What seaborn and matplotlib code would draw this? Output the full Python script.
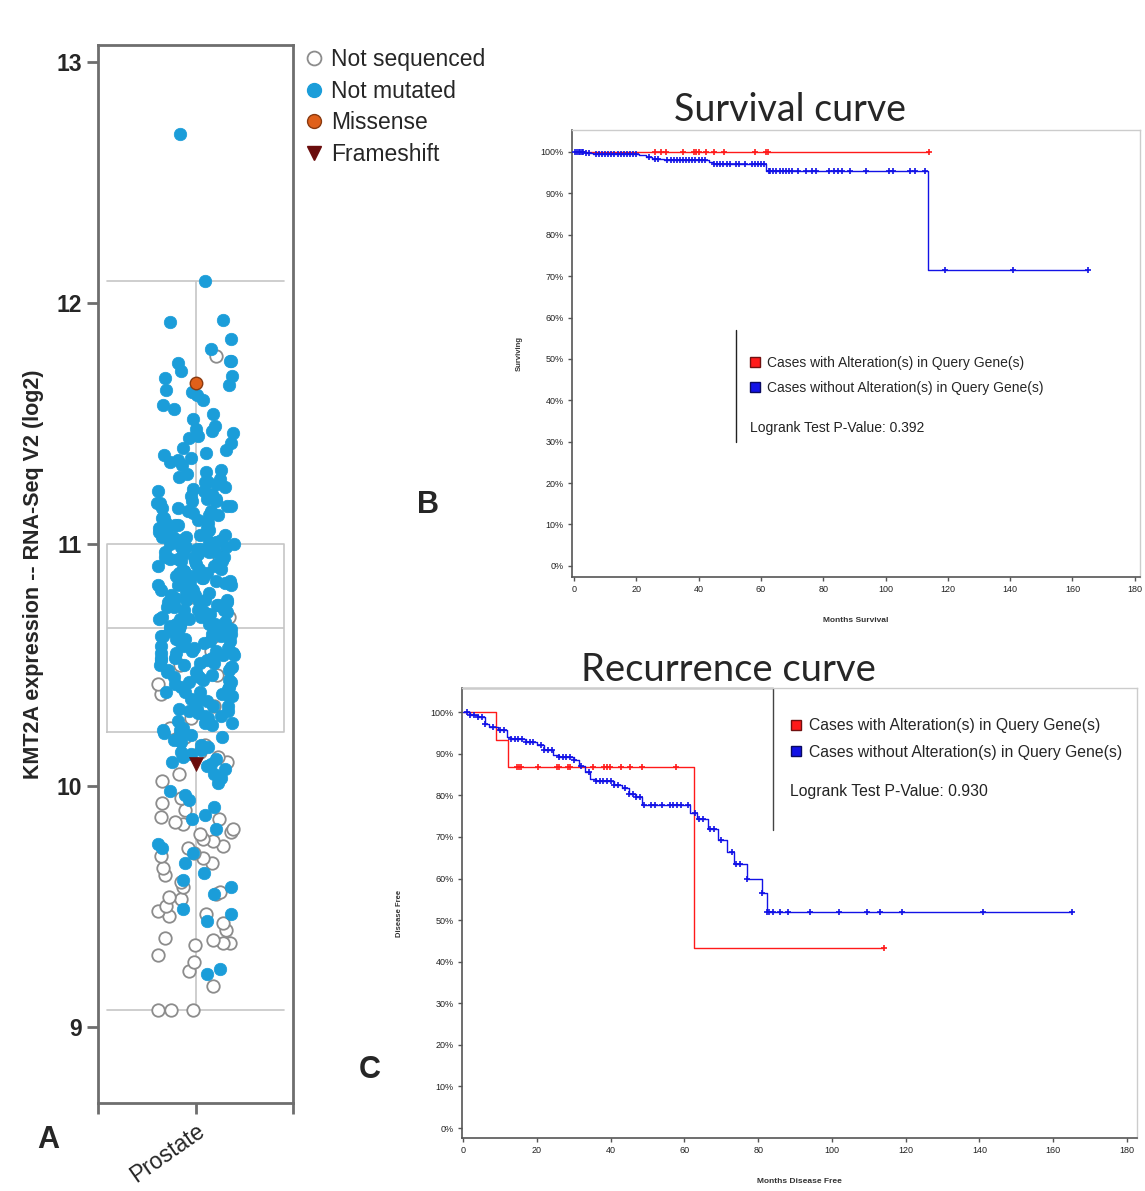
import numpy as np
import matplotlib
matplotlib.use('Agg')
import matplotlib.pyplot as plt
from matplotlib.lines import Line2D
import seaborn as sns

# ---------------- panel A: KMT2A expression in prostate samples ----------------
cancer_type = 'Prostate'
expr_ticks = [9, 10, 11, 12, 13]

not_sequenced = [
    9.07, 9.07, 9.07, 9.17, 9.23, 9.27, 9.30, 9.34, 9.35, 9.35,
    9.36, 9.37, 9.40, 9.43, 9.46, 9.47, 9.48, 9.50, 9.53, 9.54,
    9.55, 9.56, 9.58, 9.60, 9.63, 9.66, 9.68, 9.70, 9.71, 9.72,
    9.74, 9.75, 9.77, 9.78, 9.80, 9.81, 9.82, 9.84, 9.85, 9.86,
    9.87, 9.90, 9.93, 9.95, 10.02, 10.05, 10.08, 10.10, 10.12, 10.14,
    10.17, 10.20, 10.24, 10.28, 10.33, 10.38, 10.42, 10.46, 10.50, 10.56,
    10.62, 10.70, 10.78, 10.85, 10.95, 11.78,
]

not_mutated = [
    9.22, 9.24, 9.44, 9.47, 9.49, 9.55, 9.58, 9.61, 9.64, 9.68,
    9.72, 9.74, 9.76, 9.82, 9.86, 9.88, 9.91, 9.94, 9.96, 9.98,
    10.01, 10.03, 10.05, 10.07, 10.08, 10.09,
    10.10, 10.11, 10.12, 10.13, 10.14, 10.15, 10.16, 10.17, 10.18, 10.19,
    10.20, 10.21, 10.21, 10.22, 10.23, 10.23, 10.24, 10.25, 10.26, 10.26,
    10.27, 10.28, 10.29, 10.29,
    10.30, 10.31, 10.31, 10.32, 10.32, 10.33, 10.33, 10.34, 10.35, 10.35,
    10.36, 10.36, 10.37, 10.37, 10.38, 10.39, 10.39, 10.39,
    10.40, 10.41, 10.41, 10.42, 10.43, 10.43, 10.44, 10.44, 10.45, 10.45,
    10.46, 10.46, 10.47, 10.47, 10.48, 10.48, 10.49, 10.49,
    10.50, 10.50, 10.51, 10.51, 10.52, 10.52, 10.53, 10.53, 10.53, 10.54,
    10.54, 10.55, 10.55, 10.55, 10.56, 10.56, 10.57, 10.57, 10.58, 10.58,
    10.59, 10.59,
    10.60, 10.60, 10.61, 10.61, 10.62, 10.62, 10.62, 10.63, 10.63, 10.63,
    10.64, 10.64, 10.65, 10.65, 10.65, 10.66, 10.66, 10.66, 10.67, 10.67,
    10.67, 10.68, 10.68, 10.69, 10.69, 10.69,
    10.70, 10.70, 10.71, 10.71, 10.72, 10.72, 10.72, 10.73, 10.73, 10.73,
    10.74, 10.74, 10.75, 10.75, 10.75, 10.76, 10.76, 10.76, 10.77, 10.77,
    10.77, 10.78, 10.78, 10.79, 10.79, 10.79,
    10.80, 10.80, 10.81, 10.81, 10.82, 10.82, 10.82, 10.83, 10.83, 10.83,
    10.84, 10.84, 10.85, 10.85, 10.85, 10.86, 10.86, 10.86, 10.87, 10.87,
    10.87, 10.88, 10.88, 10.89, 10.89, 10.89,
    10.90, 10.90, 10.91, 10.91, 10.92, 10.92, 10.93, 10.93, 10.93, 10.94,
    10.94, 10.95, 10.95, 10.95, 10.96, 10.96, 10.97, 10.97, 10.97, 10.98,
    10.98, 10.99, 10.99, 10.99,
    11.00, 11.00, 11.01, 11.01, 11.01, 11.02, 11.02, 11.03, 11.03, 11.03,
    11.04, 11.04, 11.05, 11.05, 11.05, 11.06, 11.06, 11.07, 11.07, 11.07,
    11.08, 11.08, 11.09, 11.09,
    11.10, 11.11, 11.11, 11.12, 11.12, 11.13, 11.14, 11.14, 11.15, 11.15,
    11.16, 11.16, 11.17, 11.17, 11.18, 11.18, 11.19, 11.19,
    11.20, 11.21, 11.22, 11.22, 11.23, 11.24, 11.25, 11.26, 11.26, 11.27,
    11.28, 11.29,
    11.30, 11.31, 11.33, 11.34, 11.35, 11.36, 11.37, 11.38, 11.39,
    11.40, 11.42, 11.44, 11.45, 11.46, 11.47, 11.48, 11.49,
    11.52, 11.54, 11.56, 11.58, 11.60,
    11.62, 11.63, 11.64, 11.66, 11.69,
    11.70, 11.72, 11.75, 11.76, 11.76,
    11.81, 11.85, 11.92, 11.93, 12.09, 12.70,
]

missense = [11.67]
frameshift = [10.09]

legend_labels = ['Not sequenced', 'Not mutated', 'Missense', 'Frameshift']

# ---------------- panel B: survival (Kaplan-Meier) ----------------
surv_alt_time = [0]
surv_alt_pct = [100.0]
surv_alt_censor = [26, 28, 29.5, 35, 38.5, 39.3, 40.2, 42.5, 45, 48.3, 58, 61.7, 62.3, 114]

surv_noalt_time = [0, 4, 6, 21, 23, 25, 29, 43.5, 44.5, 61.5, 113.5]
surv_noalt_pct = [100.0, 99.7, 99.5, 99.2, 98.7, 98.3, 98.0, 97.6, 97.2, 95.3, 71.4]
surv_noalt_censor = [
    0.5, 1, 1.5, 2, 2.5, 3, 4, 5, 7, 8, 9, 10, 11, 12, 13, 14, 15, 16, 17, 18, 19, 20,
    24, 26, 27, 30, 31, 32, 33, 34, 35, 36, 37, 38, 39, 40, 41, 42, 45, 46, 47, 48, 49,
    50, 52, 53, 55, 57, 58, 59, 60, 61,
    62.5, 63, 64, 65, 66, 67, 68, 69, 70, 72, 74.5, 76.4, 77.6, 82, 83.4, 84.7, 86,
    88.5, 93.6, 101, 102.5, 108, 109.6, 112.8, 119, 141, 165,
]
surv_pvalue = '0.392'

# ---------------- panel C: disease free (Kaplan-Meier) ----------------
dfs_alt_time = [0, 9, 12.3, 62.5]
dfs_alt_pct = [100.0, 93.3, 86.7, 43.3]
dfs_alt_censor = [14.6, 15.2, 15.6, 20.2, 25.5, 25.9, 28.4, 29, 35.2, 38.1, 39, 39.9,
                  42.8, 45.2, 48.4, 57.8, 114.2]

dfs_noalt_time = [0, 2, 4, 6, 7, 9.5, 12, 13, 17, 20, 22, 24.5, 26, 30, 31.5, 33, 34.5,
                  36, 41, 43, 45, 47, 48.4, 61.5, 63.3, 66.5, 69, 71.5, 73.5, 77, 81, 82.3]
dfs_noalt_pct = [100.0, 99.2, 98.8, 97.2, 96.4, 95.6, 94.0, 93.6, 92.8, 92.0, 90.8, 89.6,
                 89.2, 88.4, 87.0, 85.6, 84.0, 83.4, 82.4, 81.8, 80.4, 79.6, 77.6, 75.8,
                 74.2, 72.0, 69.2, 66.4, 63.6, 59.8, 56.4, 52.0]
dfs_noalt_censor = [
    1, 2, 3, 4, 5, 6, 8, 10, 11, 13, 14, 15, 16, 17, 18, 19, 21, 22, 23, 24, 26, 27,
    28, 29, 30, 32, 34, 36, 37, 38, 39, 40, 41, 42, 44, 45, 46, 47, 48, 49, 51, 52,
    54, 56, 57, 58, 59, 61, 63, 64, 65, 67, 68, 70, 73, 74, 75, 77, 81, 82.5, 83,
    84, 86, 88, 94, 102, 109.5, 113, 119, 141, 165,
]
dfs_pvalue = '0.930'

months_ticks = [0, 20, 40, 60, 80, 100, 120, 140, 160, 180]
pct_ticks = [0, 10, 20, 30, 40, 50, 60, 70, 80, 90, 100]
group_labels = ['Cases with Alteration(s) in Query Gene(s)',
                'Cases without Alteration(s) in Query Gene(s)']

RED = '#ff1a1a'
BLUE = '#1212e6'
NARROW = ['Liberation Sans', 'DejaVu Sans']

sns.set_style('white')
plt.rcParams['font.family'] = ['Liberation Sans', 'DejaVu Sans']

fig = plt.figure(figsize=(11.45, 11.91), dpi=100)
axA = fig.add_axes([0.0856, 0.0739, 0.1703, 0.8883])
axB = fig.add_axes([0.4996, 0.5155, 0.4961, 0.3753])
axC = fig.add_axes([0.4035, 0.0445, 0.5895, 0.3778])

# ---- A: box + strip
np.random.seed(11)
all_expr = not_sequenced + not_mutated + missense + frameshift
box_kws = dict(x=[cancer_type] * len(all_expr), y=all_expr, ax=axA, width=0.91,
               fill=False, color='#c6c6c6', linewidth=1.2, showfliers=False,
               whis=1.5, zorder=0.5)
try:
    sns.boxplot(**box_kws, capwidths=0.91)
except TypeError:
    sns.boxplot(**box_kws)

sns.stripplot(x=[cancer_type] * len(not_sequenced), y=not_sequenced, ax=axA,
              jitter=0.2, size=9, color='white', edgecolor='#8c8c8c',
              linewidth=1.3, zorder=2)
sns.stripplot(x=[cancer_type] * len(not_mutated), y=not_mutated, ax=axA,
              jitter=0.2, size=9, color='#1b9dd9', edgecolor='#1b9dd9',
              linewidth=0.5, zorder=3)
sns.stripplot(x=[cancer_type] * len(missense), y=missense, ax=axA,
              jitter=0.2, size=9, color='#e0601a', edgecolor='#8a3a10',
              linewidth=1, zorder=4)
sns.stripplot(x=[cancer_type] * len(frameshift), y=frameshift, ax=axA,
              jitter=0.2, size=10, color='#6a0d0d', edgecolor='#6a0d0d',
              marker='v', linewidth=0.5, zorder=5)

axA.set_xlim(-0.5, 0.5)
axA.set_ylim(8.685, 13.07)
axA.set_yticks(expr_ticks)
axA.set_yticklabels([str(t) for t in expr_ticks], fontsize=16.5, fontweight='bold')
axA.set_xticks([-0.5, 0, 0.5])
axA.set_xticklabels(['', cancer_type, ''], fontsize=16.5, rotation=35,
                    ha='right', rotation_mode='anchor')
axA.set_xlabel('')
axA.set_ylabel('KMT2A expression -- RNA-Seq V2 (log2)', fontsize=15.5,
               fontweight='bold', labelpad=9)
for sp in axA.spines.values():
    sp.set_visible(True)
    sp.set_color('#6e6e6e')
    sp.set_linewidth(2)
axA.tick_params(axis='both', length=8, width=2, color='#6e6e6e', direction='out',
                left=True, bottom=True)

handles_a = [
    Line2D([], [], marker='o', ls='', markerfacecolor='white', markeredgecolor='#8c8c8c',
           markeredgewidth=1.3, markersize=10),
    Line2D([], [], marker='o', ls='', markerfacecolor='#1b9dd9', markeredgecolor='#1b9dd9',
           markersize=10),
    Line2D([], [], marker='o', ls='', markerfacecolor='#e0601a', markeredgecolor='#8a3a10',
           markersize=10),
    Line2D([], [], marker='v', ls='', markerfacecolor='#6a0d0d', markeredgecolor='#6a0d0d',
           markersize=10),
]
axA.legend(handles_a, legend_labels, loc='upper left', bbox_to_anchor=(1.0, 1.006),
           frameon=False, fontsize=16.5, handletextpad=0.25, labelspacing=0.38,
           borderaxespad=0, handlelength=1.0)


# ---- B / C: Kaplan-Meier
def step_value(times, pct, t):
    idx = np.searchsorted(np.asarray(times), np.asarray(t), side='right') - 1
    return np.asarray(pct)[idx]


def km_curve(ax, times, pct, censor, color):
    end = max(max(censor), times[-1])
    xs = list(times) + [end]
    ys = list(pct) + [pct[-1]]
    sns.lineplot(x=xs, y=ys, ax=ax, drawstyle='steps-post', color=color,
                 linewidth=1.0, estimator=None, sort=False)
    sns.scatterplot(x=censor, y=step_value(times, pct, censor), ax=ax,
                    marker='+', color=color, s=16, linewidth=1.2, zorder=4)


def km_axes(ax, xlim, ylim, xlabel, ylabel, ylabelpad):
    ax.set_xlim(*xlim)
    ax.set_ylim(*ylim)
    ax.set_xticks(months_ticks)
    ax.set_xticklabels([str(m) for m in months_ticks], fontsize=6.5, color='#222222')
    ax.set_yticks(pct_ticks)
    ax.set_yticklabels([f'{p}%' for p in pct_ticks], fontsize=6.5, color='#222222')
    ax.set_xlabel(xlabel, fontsize=6, fontweight='bold', labelpad=16, color='#333333')
    ax.set_ylabel(ylabel, fontsize=5.5, fontweight='bold', labelpad=ylabelpad,
                  color='#333333')
    for side in ['left', 'bottom']:
        ax.spines[side].set_color('#555555')
        ax.spines[side].set_linewidth(1.2)
    for side in ['top', 'right']:
        ax.spines[side].set_visible(True)
        ax.spines[side].set_color('#cccccc')
        ax.spines[side].set_linewidth(1.0)
    ax.tick_params(axis='both', length=3, width=1, color='#555555', direction='out',
                   left=True, bottom=True, pad=3)


def km_legend(ax, anchor, fontsize, pvalue, p_xy):
    handles = [
        Line2D([], [], marker='s', ls='', markerfacecolor=RED, markeredgecolor='#701010',
               markersize=7),
        Line2D([], [], marker='s', ls='', markerfacecolor=BLUE, markeredgecolor='#0a0a60',
               markersize=7),
    ]
    ax.legend(handles, group_labels, loc='upper left', bbox_to_anchor=anchor,
              frameon=False, borderpad=0, borderaxespad=0, handlelength=0.7,
              handletextpad=0.5, labelspacing=0.75,
              prop={'family': NARROW, 'size': fontsize})
    ax.text(p_xy[0], p_xy[1], f'Logrank Test P-Value: {pvalue}', transform=ax.transAxes,
            fontsize=fontsize, family=NARROW, va='center', ha='left', color='#222222')


km_curve(axB, surv_alt_time, surv_alt_pct, surv_alt_censor, RED)
km_curve(axB, surv_noalt_time, surv_noalt_pct, surv_noalt_censor, BLUE)
km_axes(axB, (-0.6, 181.7), (-2.7, 105.3), 'Months Survival', 'Surviving', 13)
km_legend(axB, (0.313, 0.494), 10, surv_pvalue, (0.313, 0.333))
axB.plot([0.289, 0.289], [0.302, 0.553], transform=axB.transAxes, color='#222222',
         linewidth=1)

km_curve(axC, dfs_alt_time, dfs_alt_pct, dfs_alt_censor, RED)
km_curve(axC, dfs_noalt_time, dfs_noalt_pct, dfs_noalt_censor, BLUE)
km_axes(axC, (-0.3, 182.7), (-2.4, 105.8), 'Months Disease Free', 'Disease Free', 20)
km_legend(axC, (0.486, 0.933), 11.3, dfs_pvalue, (0.486, 0.769))
axC.plot([0, 0.461, 0.461], [1.0, 1.0, 0.684], transform=axC.transAxes,
         color='#444444', linewidth=1, clip_on=False)

# titles and panel letters
fig.text(0.690, 0.9076, 'Survival curve', fontsize=27, family=['Lato', 'DejaVu Sans'],
         ha='center', va='center')
fig.text(0.636, 0.4375, 'Recurrence curve', fontsize=27.5, family=['Lato', 'DejaVu Sans'],
         ha='center', va='center')
fig.text(0.042, 0.0428, 'A', fontsize=22, fontweight='bold', ha='center', va='center')
fig.text(0.374, 0.576, 'B', fontsize=22, fontweight='bold', ha='center', va='center')
fig.text(0.323, 0.1016, 'C', fontsize=22, fontweight='bold', ha='center', va='center')

fig.savefig('out.png', dpi=100, facecolor='white')
